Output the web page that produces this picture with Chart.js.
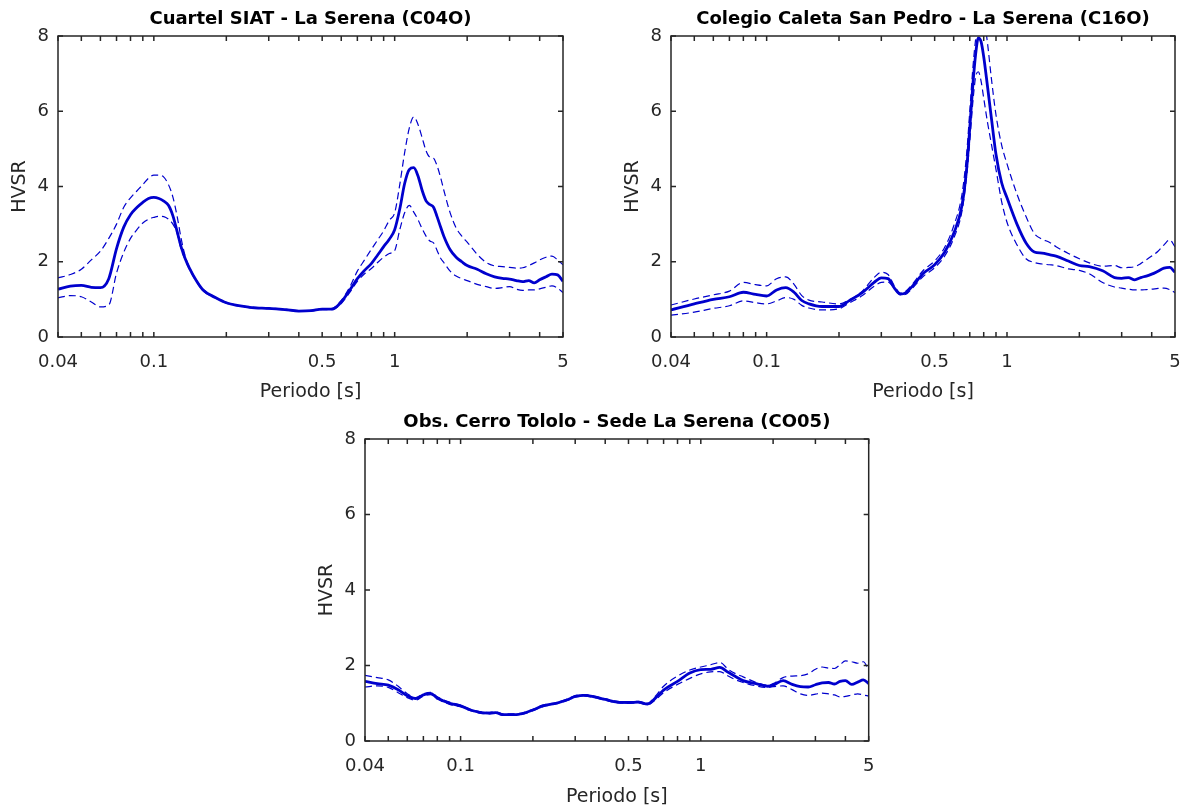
<!DOCTYPE html>
<html>
<head>
<meta charset="utf-8">
<script src="https://cdn.jsdelivr.net/npm/chart.js@4.4.1/dist/chart.umd.min.js"></script>
<style>
  html, body { margin: 0; padding: 0; background: #ffffff; }
  body { width: 1189px; height: 808px; position: relative; overflow: hidden; }
  canvas { position: absolute; }
</style>
</head>
<body>
<canvas id="c1" width="600" height="405" style="left:0px;top:0px;"></canvas>
<canvas id="c2" width="576" height="405" style="left:613px;top:0px;"></canvas>
<canvas id="c3" width="600" height="405" style="left:307px;top:403px;"></canvas>
<script>
// ---------- Axis ticks ----------
const xTickValues = [0.04, 0.05, 0.06, 0.07, 0.08, 0.09, 0.1, 0.2, 0.3, 0.4, 0.5, 0.6, 0.7, 0.8, 0.9, 1, 2, 3, 4, 5];
const xLabelValues = [0.04, 0.1, 0.5, 1, 5];
const xLabelTexts = ['0.04', '0.1', '0.5', '1', '5'];
const yTickValues = [0, 2, 4, 6, 8];

// ---------- Titles ----------
const titles = [
  'Cuartel SIAT - La Serena (C04O)',
  'Colegio Caleta San Pedro - La Serena (C16O)',
  'Obs. Cerro Tololo - Sede La Serena (CO05)'
];
const xAxisTitle = 'Periodo [s]';
const yAxisTitle = 'HVSR';

// ---------- Chart 1: C04O ----------
const periods1 = [0.04, 0.045, 0.05, 0.055, 0.06, 0.065, 0.07, 0.075, 0.08, 0.085, 0.09, 0.095, 0.1, 0.105, 0.11, 0.115, 0.12, 0.125, 0.13, 0.135, 0.14, 0.15, 0.16, 0.18, 0.2, 0.25, 0.3, 0.35, 0.4, 0.45, 0.5, 0.55, 0.6, 0.65, 0.7, 0.75, 0.8, 0.85, 0.9, 0.95, 1.0, 1.05, 1.1, 1.15, 1.2, 1.25, 1.3, 1.35, 1.4, 1.45, 1.5, 1.55, 1.6, 1.7, 1.8, 1.9, 2.0, 2.2, 2.4, 2.6, 2.8, 3.0, 3.2, 3.4, 3.6, 3.8, 4.0, 4.25, 4.5, 4.75, 5.0];
const mean1 = [1.27, 1.35, 1.37, 1.32, 1.31, 1.55, 2.35, 2.92, 3.25, 3.44, 3.58, 3.68, 3.71, 3.68, 3.61, 3.50, 3.22, 2.80, 2.38, 2.08, 1.85, 1.50, 1.25, 1.05, 0.91, 0.79, 0.76, 0.73, 0.69, 0.70, 0.74, 0.74, 0.93, 1.24, 1.55, 1.77, 1.95, 2.18, 2.40, 2.60, 2.85, 3.40, 4.08, 4.45, 4.50, 4.28, 3.90, 3.62, 3.52, 3.45, 3.20, 2.93, 2.68, 2.32, 2.12, 2.00, 1.90, 1.80, 1.68, 1.60, 1.56, 1.54, 1.50, 1.47, 1.50, 1.44, 1.52, 1.60, 1.67, 1.65, 1.48];
const upper1 = [1.57, 1.66, 1.80, 2.05, 2.28, 2.62, 3.00, 3.45, 3.70, 3.88, 4.05, 4.22, 4.30, 4.30, 4.25, 4.05, 3.72, 3.20, 2.60, 2.15, 1.88, 1.52, 1.27, 1.06, 0.92, 0.80, 0.77, 0.74, 0.70, 0.71, 0.75, 0.76, 0.97, 1.32, 1.75, 2.05, 2.33, 2.58, 2.82, 3.10, 3.30, 4.05, 4.90, 5.55, 5.85, 5.65, 5.30, 4.95, 4.78, 4.75, 4.55, 4.25, 3.90, 3.30, 2.90, 2.68, 2.52, 2.20, 1.98, 1.89, 1.87, 1.85, 1.83, 1.84, 1.90, 1.97, 2.05, 2.12, 2.15, 2.05, 1.92];
const lower1 = [1.04, 1.10, 1.07, 0.93, 0.80, 0.85, 1.70, 2.25, 2.62, 2.85, 3.03, 3.13, 3.18, 3.21, 3.20, 3.13, 3.00, 2.75, 2.32, 2.05, 1.82, 1.48, 1.23, 1.04, 0.90, 0.78, 0.75, 0.72, 0.68, 0.69, 0.73, 0.73, 0.89, 1.18, 1.48, 1.68, 1.82, 1.98, 2.12, 2.22, 2.30, 2.85, 3.30, 3.50, 3.32, 3.12, 2.88, 2.68, 2.55, 2.50, 2.30, 2.10, 1.98, 1.75, 1.62, 1.55, 1.50, 1.40, 1.34, 1.29, 1.31, 1.34, 1.27, 1.24, 1.25, 1.25, 1.28, 1.32, 1.36, 1.30, 1.18];

// ---------- Chart 2: C16O ----------
const periods2 = [0.04, 0.05, 0.06, 0.07, 0.08, 0.09, 0.1, 0.11, 0.12, 0.13, 0.14, 0.15, 0.17, 0.2, 0.22, 0.25, 0.28, 0.3, 0.32, 0.34, 0.36, 0.38, 0.4, 0.45, 0.5, 0.55, 0.6, 0.65, 0.68, 0.7, 0.72, 0.74, 0.76, 0.78, 0.8, 0.83, 0.86, 0.9, 0.95, 1.0, 1.1, 1.2, 1.3, 1.4, 1.5, 1.6, 1.8, 2.0, 2.2, 2.5, 2.8, 3.0, 3.2, 3.4, 3.6, 3.8, 4.0, 4.25, 4.5, 4.75, 5.0];
const mean2 = [0.72, 0.88, 1.00, 1.07, 1.19, 1.13, 1.09, 1.25, 1.31, 1.19, 0.97, 0.88, 0.81, 0.81, 0.96, 1.18, 1.45, 1.57, 1.55, 1.30, 1.14, 1.18, 1.32, 1.70, 1.92, 2.25, 2.75, 3.50, 4.50, 5.55, 6.65, 7.50, 7.95, 7.85, 7.45, 6.65, 5.85, 4.85, 4.10, 3.70, 3.00, 2.50, 2.26, 2.23, 2.19, 2.15, 2.02, 1.90, 1.87, 1.76, 1.58, 1.56, 1.58, 1.52, 1.58, 1.62, 1.67, 1.75, 1.83, 1.85, 1.72];
const upper2 = [0.85, 1.01, 1.12, 1.22, 1.45, 1.39, 1.36, 1.55, 1.60, 1.40, 1.10, 0.98, 0.93, 0.88, 0.98, 1.22, 1.58, 1.72, 1.66, 1.36, 1.17, 1.22, 1.37, 1.78, 2.02, 2.38, 2.95, 3.80, 4.90, 6.00, 7.10, 7.90, 8.40, 8.60, 8.50, 7.80, 6.90, 5.90, 5.10, 4.60, 3.80, 3.20, 2.75, 2.60, 2.52, 2.40, 2.22, 2.08, 1.97, 1.88, 1.90, 1.84, 1.85, 1.87, 1.95, 2.05, 2.15, 2.28, 2.45, 2.58, 2.40];
const lower2 = [0.58, 0.66, 0.76, 0.83, 0.96, 0.91, 0.88, 0.96, 1.05, 1.00, 0.84, 0.77, 0.72, 0.75, 0.90, 1.10, 1.35, 1.45, 1.46, 1.28, 1.12, 1.14, 1.27, 1.62, 1.84, 2.15, 2.62, 3.35, 4.30, 5.20, 6.20, 6.90, 7.05, 6.80, 6.35, 5.70, 5.15, 4.45, 3.60, 3.05, 2.45, 2.08, 1.98, 1.94, 1.92, 1.90, 1.81, 1.77, 1.68, 1.45, 1.33, 1.30, 1.27, 1.25, 1.25, 1.26, 1.27, 1.29, 1.30, 1.26, 1.18];

// ---------- Chart 3: CO05 ----------
const periods3 = [0.04, 0.045, 0.05, 0.055, 0.06, 0.065, 0.07, 0.075, 0.08, 0.09, 0.1, 0.11, 0.12, 0.13, 0.14, 0.15, 0.17, 0.2, 0.22, 0.25, 0.28, 0.3, 0.33, 0.36, 0.4, 0.45, 0.5, 0.55, 0.6, 0.65, 0.7, 0.8, 0.9, 1.0, 1.1, 1.2, 1.3, 1.4, 1.5, 1.7, 1.9, 2.0, 2.2, 2.4, 2.6, 2.8, 3.0, 3.2, 3.4, 3.6, 3.8, 4.0, 4.25, 4.5, 4.75, 5.0];
const mean3 = [1.58, 1.52, 1.48, 1.36, 1.20, 1.12, 1.22, 1.26, 1.14, 1.00, 0.93, 0.82, 0.76, 0.74, 0.75, 0.70, 0.70, 0.82, 0.93, 1.00, 1.10, 1.18, 1.21, 1.17, 1.10, 1.03, 1.02, 1.03, 0.98, 1.15, 1.35, 1.58, 1.80, 1.89, 1.90, 1.95, 1.82, 1.70, 1.60, 1.52, 1.45, 1.48, 1.60, 1.50, 1.44, 1.43, 1.49, 1.54, 1.55, 1.51, 1.58, 1.60, 1.50, 1.56, 1.62, 1.52];
const upper3 = [1.74, 1.68, 1.62, 1.45, 1.25, 1.15, 1.25, 1.29, 1.17, 1.03, 0.95, 0.84, 0.78, 0.76, 0.77, 0.72, 0.72, 0.84, 0.95, 1.02, 1.12, 1.20, 1.23, 1.19, 1.12, 1.05, 1.04, 1.05, 1.00, 1.20, 1.45, 1.72, 1.88, 1.96, 2.02, 2.08, 1.90, 1.78, 1.70, 1.55, 1.48, 1.52, 1.68, 1.72, 1.73, 1.78, 1.90, 1.96, 1.93, 1.92, 2.02, 2.12, 2.10, 2.06, 2.10, 1.88];
const lower3 = [1.43, 1.46, 1.42, 1.28, 1.15, 1.08, 1.19, 1.23, 1.11, 0.97, 0.91, 0.80, 0.74, 0.72, 0.73, 0.68, 0.68, 0.80, 0.91, 0.98, 1.08, 1.16, 1.19, 1.15, 1.08, 1.01, 1.00, 1.01, 0.96, 1.10, 1.28, 1.50, 1.66, 1.78, 1.83, 1.84, 1.72, 1.62, 1.55, 1.46, 1.42, 1.44, 1.46, 1.36, 1.25, 1.21, 1.24, 1.27, 1.25, 1.22, 1.17, 1.18, 1.22, 1.25, 1.22, 1.19];

// ---------- Styling ----------
const AXIS_COLOR = '#262626';
const LINE_COLOR = '#0000CD';
const FONT_FAMILY = '"DejaVu Sans", "Liberation Sans", Arial, sans-serif';
const TICK_LEN = 5;

const framePlugin = {
  id: 'matlabFrame',
  afterDatasetsDraw(chart) {
    const ctx = chart.ctx;
    const {left, right, top, bottom} = chart.chartArea;
    const xs = chart.scales.x, ys = chart.scales.y;
    ctx.save();
    ctx.strokeStyle = AXIS_COLOR;
    ctx.lineWidth = 1.5;
    ctx.beginPath();
    xs.ticks.forEach(t => {
      const px = xs.getPixelForValue(t.value);
      ctx.moveTo(px, bottom); ctx.lineTo(px, bottom - TICK_LEN);
      ctx.moveTo(px, top); ctx.lineTo(px, top + TICK_LEN);
    });
    ys.ticks.forEach(t => {
      const py = ys.getPixelForValue(t.value);
      ctx.moveTo(left, py); ctx.lineTo(left + TICK_LEN, py);
      ctx.moveTo(right, py); ctx.lineTo(right - TICK_LEN, py);
    });
    ctx.stroke();
    ctx.strokeRect(left, top, right - left, bottom - top);
    ctx.restore();
  }
};

function toPoints(xs, ys) {
  return xs.map((x, i) => ({x: x, y: ys[i]}));
}

function makeChart(id, title, periods, mean, upper, lower, cfg) {
  const dashed = {
    borderColor: LINE_COLOR, borderWidth: 1.2, borderDash: [7, 4],
    pointRadius: 0, fill: false, cubicInterpolationMode: 'monotone', tension: 0.4
  };
  return new Chart(document.getElementById(id), {
    type: 'line',
    data: {
      datasets: [
        Object.assign({label: 'upper', data: toPoints(periods, upper)}, dashed),
        Object.assign({label: 'lower', data: toPoints(periods, lower)}, dashed),
        {
          label: 'mean', data: toPoints(periods, mean),
          borderColor: LINE_COLOR, borderWidth: 2.8, pointRadius: 0, fill: false,
          cubicInterpolationMode: 'monotone', tension: 0.4
        }
      ]
    },
    options: {
      responsive: false,
      animation: false,
      devicePixelRatio: 1,
      layout: {padding: {left: 0, right: cfg.padRight, top: 0, bottom: 0}},
      plugins: {
        legend: {display: false},
        tooltip: {enabled: false},
        title: {
          display: true, text: title, fullSize: false,
          color: '#000000',
          font: {family: FONT_FAMILY, size: 18, weight: 'bold', lineHeight: 1.2},
          padding: {top: 9, bottom: 5.4}
        }
      },
      scales: {
        x: {
          type: 'logarithmic',
          min: 0.04, max: 5,
          afterBuildTicks: (s) => { s.ticks = xTickValues.map(v => ({value: v})); },
          afterFit: (s) => { s.height = cfg.xHeight; s.paddingLeft = 0; s.paddingRight = 0; },
          grid: {display: false, drawTicks: false},
          border: {display: false},
          ticks: {
            autoSkip: false, maxRotation: 0, minRotation: 0, padding: 15,
            color: AXIS_COLOR,
            font: {family: FONT_FAMILY, size: 18},
            callback: (value) => {
              const i = xLabelValues.findIndex(v => Math.abs(v - value) < 1e-9);
              return i >= 0 ? xLabelTexts[i] : '';
            }
          },
          title: {
            display: true, text: xAxisTitle, color: AXIS_COLOR,
            font: {family: FONT_FAMILY, size: 19, lineHeight: 1.2},
            padding: {top: 0, bottom: cfg.xTitlePad}
          }
        },
        y: {
          type: 'linear',
          min: 0, max: 8,
          afterBuildTicks: (s) => { s.ticks = yTickValues.map(v => ({value: v})); },
          afterFit: (s) => { s.width = 58; s.paddingTop = 0; s.paddingBottom = 0; },
          grid: {display: false, drawTicks: false},
          border: {display: false},
          ticks: {
            padding: 9, color: AXIS_COLOR,
            font: {family: FONT_FAMILY, size: 18},
            callback: (value) => String(value)
          },
          title: {
            display: true, text: yAxisTitle, color: AXIS_COLOR,
            font: {family: FONT_FAMILY, size: 19, lineHeight: 1.2},
            padding: {top: 8.5, bottom: 0}
          }
        }
      }
    },
    plugins: [framePlugin]
  });
}

makeChart('c1', titles[0], periods1, mean1, upper1, lower1, {padRight: 37, xHeight: 68, xTitlePad: 1.1});
makeChart('c2', titles[1], periods2, mean2, upper2, lower2, {padRight: 14, xHeight: 68, xTitlePad: 1.1});
makeChart('c3', titles[2], periods3, mean3, upper3, lower3, {padRight: 38.3, xHeight: 67, xTitlePad: 0});
</script>
</body>
</html>
